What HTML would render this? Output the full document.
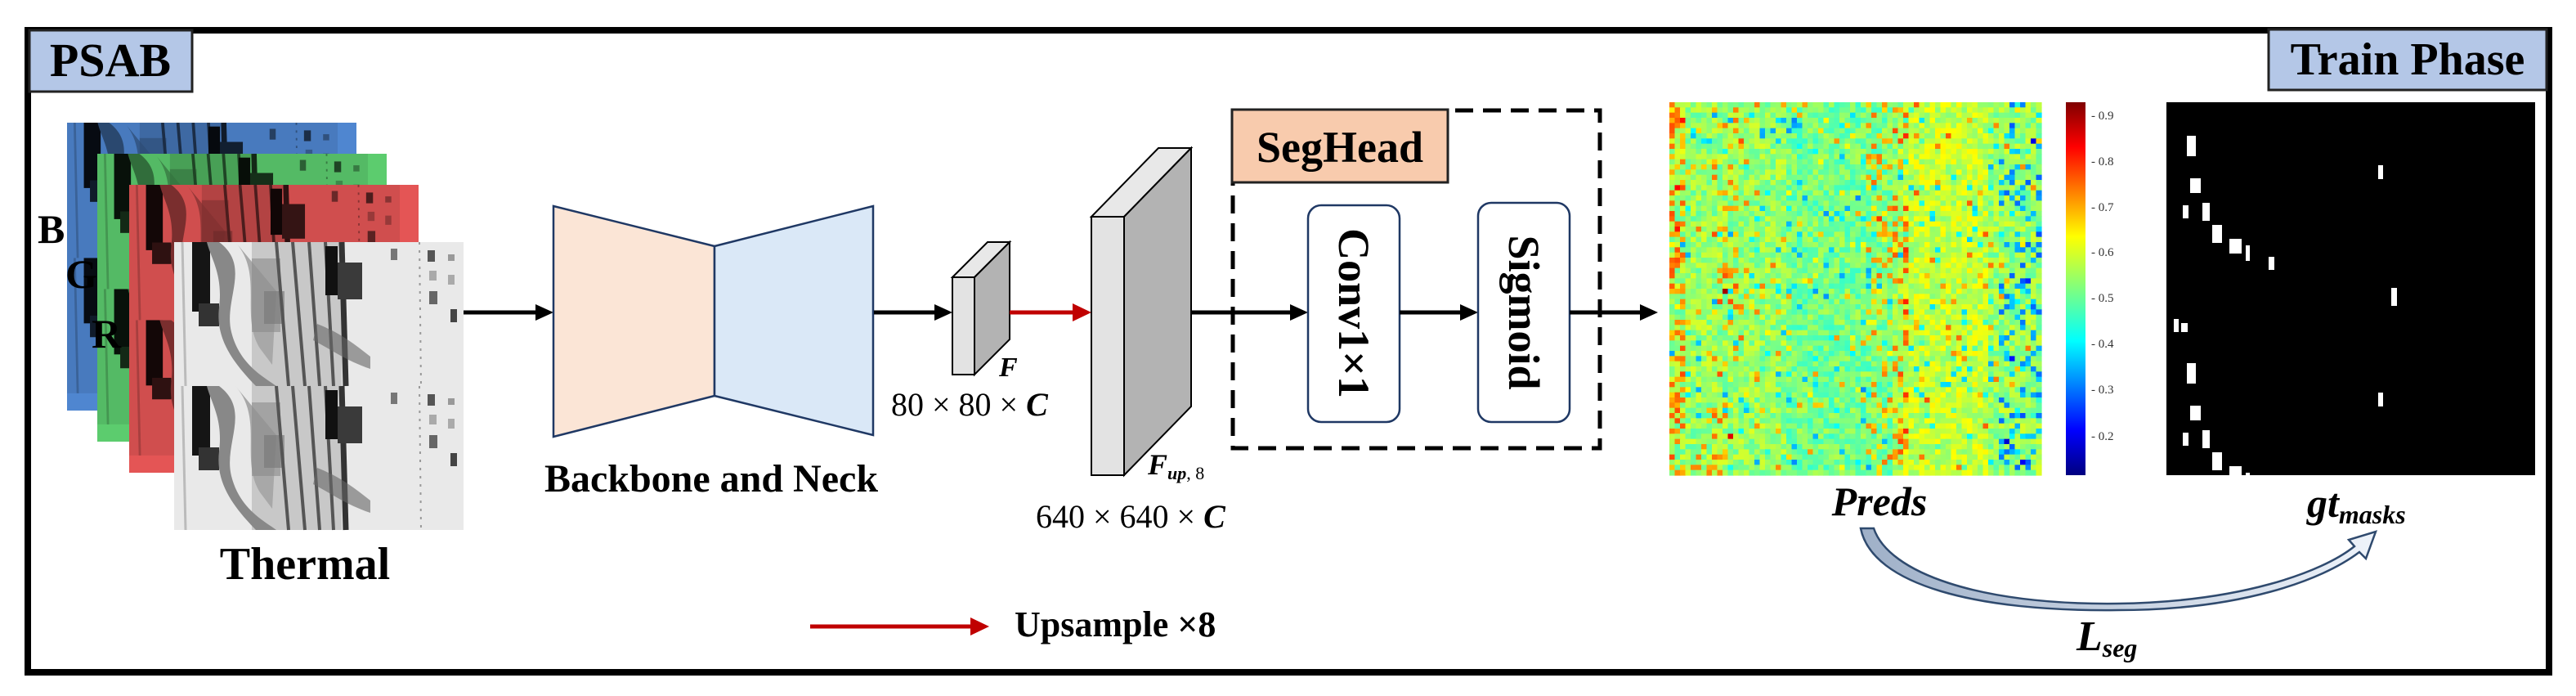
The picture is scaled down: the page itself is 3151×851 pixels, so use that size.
<!DOCTYPE html>
<html><head><meta charset="utf-8"><style>
html,body{margin:0;padding:0;background:#fff;}
svg{display:block;}
text{font-family:"Liberation Serif",serif;}
</style></head><body>
<svg id="s" width="3151" height="851" viewBox="0 0 3151 851" xmlns="http://www.w3.org/2000/svg">
<defs>
 <g id="scene">
  <rect x="0" y="0" width="354" height="176" fill="#e9e9e9"/>
  <path d="M10,0 L14,176" stroke="#bbb" stroke-width="3"/>
  <rect x="95" y="0" width="110" height="176" fill="#c8c8c8"/>
  <rect x="22" y="0" width="22" height="85" fill="#151515"/>
  <rect x="30" y="75" width="25" height="28" fill="#333"/>
  <path d="M55,0 C95,30 60,70 70,110 C80,150 110,165 125,176 L100,176 C75,150 50,120 55,80 C60,40 45,20 40,0Z" fill="#888"/>
  <path d="M75,0 C110,40 80,90 105,130 L120,150 L125,60 Z" fill="#a8a8a8"/>
  <rect x="95" y="20" width="35" height="90" fill="#8a8a8a" opacity="0.6"/>
  <rect x="110" y="60" width="25" height="40" fill="#777" opacity="0.6"/>
  <path d="M125,0 L140,176 M145,0 L160,176 M165,0 L178,176 M185,0 L195,176" stroke="#555" stroke-width="4"/>
  <path d="M205,0 L210,176" stroke="#333" stroke-width="7"/>
  <rect x="185" y="5" width="15" height="60" fill="#111"/>
  <rect x="200" y="25" width="30" height="45" fill="#3a3a3a"/>
  <path d="M175,100 C200,110 215,120 240,140 L240,155 C210,145 190,130 170,120Z" fill="#666" opacity="0.6"/>
  <rect x="265" y="8" width="8" height="14" fill="#777"/>
  <path d="M300,0 L302,176" stroke="#999" stroke-width="2" stroke-dasharray="3,7"/>
  <rect x="310" y="10" width="9" height="14" fill="#555"/><rect x="312" y="35" width="9" height="12" fill="#aaa"/>
  <rect x="312" y="60" width="10" height="16" fill="#666"/><rect x="338" y="82" width="8" height="16" fill="#444"/>
  <rect x="335" y="15" width="8" height="8" fill="#999"/><rect x="335" y="40" width="8" height="12" fill="#aaa"/>
 </g>
 <g id="scene2"><use href="#scene"/><use href="#scene" y="176"/></g>
 <clipPath id="c1"><rect x="0" y="0" width="354" height="352"/></clipPath>
 <linearGradient id="ag" x1="0" y1="0" x2="1" y2="0"><stop offset="0" stop-color="#9fb0c8"/><stop offset="1" stop-color="#eef3fa"/></linearGradient>
</defs>

<rect x="34" y="37" width="3084" height="785" fill="none" stroke="#000" stroke-width="8"/>

<rect x="36" y="37" width="199" height="75" fill="#b4c7e7" stroke="#222" stroke-width="3"/>
<text x="135" y="93" font-size="58" font-weight="bold" text-anchor="middle">PSAB</text>
<rect x="2775" y="36" width="340" height="74" fill="#b4c7e7" stroke="#222" stroke-width="3"/>
<text x="2945" y="91" font-size="56" font-weight="bold" text-anchor="middle">Train Phase</text>

<g transform="translate(82,150)" clip-path="url(#c1)"><g transform="scale(0.935,0.94)"><use href="#scene2"/></g><rect width="354" height="352" fill="#4f86d0" style="mix-blend-mode:multiply"/></g>
<g transform="translate(119,188)" clip-path="url(#c1)"><g transform="scale(0.935,0.94)"><use href="#scene2"/></g><rect width="354" height="352" fill="#5ccc6e" style="mix-blend-mode:multiply"/></g>
<g transform="translate(158,226)" clip-path="url(#c1)"><g transform="scale(0.935,0.94)"><use href="#scene2"/></g><rect width="354" height="352" fill="#e45555" style="mix-blend-mode:multiply"/></g>
<g transform="translate(213,296)"><use href="#scene2"/></g>
<text x="46" y="297" font-size="50" font-weight="bold">B</text>
<text x="80" y="352" font-size="50" font-weight="bold">G</text>
<text x="112" y="425" font-size="50" font-weight="bold">R</text>
<text x="373" y="708" font-size="56" font-weight="bold" text-anchor="middle">Thermal</text>

<line x1="567" y1="382" x2="660" y2="382" stroke="#000" stroke-width="5"/>
<polygon points="677,382 655,372 655,392" fill="#000"/>

<polygon points="677,252 874,301 874,484 677,534" fill="#fbe5d6" stroke="#1f3864" stroke-width="2.5"/>
<polygon points="874,301 1068,252 1068,532 874,484" fill="#dae8f7" stroke="#1f3864" stroke-width="2.5"/>
<text x="870" y="601" font-size="48" font-weight="bold" text-anchor="middle">Backbone and Neck</text>

<line x1="1069" y1="382" x2="1148" y2="382" stroke="#000" stroke-width="5"/>
<polygon points="1165,382 1143,372 1143,392" fill="#000"/>

<polygon points="1165,339 1208,296 1235,296 1192,339" fill="#e8e8e8" stroke="#000" stroke-width="2"/>
<polygon points="1192,339 1235,296 1235,415 1192,458" fill="#b3b3b3" stroke="#000" stroke-width="2"/>
<rect x="1165" y="339" width="27" height="119" fill="#e3e3e3" stroke="#000" stroke-width="2"/>
<text x="1222" y="460" font-size="34" font-weight="bold" font-style="italic">F</text>
<text x="1090" y="508" font-size="40">80 × 80 × <tspan font-weight="bold" font-style="italic">C</tspan></text>

<line x1="1235" y1="382" x2="1316" y2="382" stroke="#c00000" stroke-width="5"/>
<polygon points="1335,382 1312,371 1312,393" fill="#c00000"/>

<polygon points="1335,265 1417,181 1457,181 1375,265" fill="#e8e8e8" stroke="#000" stroke-width="2"/>
<polygon points="1375,265 1457,181 1457,497 1375,581" fill="#b3b3b3" stroke="#000" stroke-width="2"/>
<rect x="1335" y="265" width="40" height="316" fill="#e3e3e3" stroke="#000" stroke-width="2"/>
<text x="1404" y="580" font-size="36" font-weight="bold" font-style="italic">F<tspan font-size="22" dy="6">up</tspan><tspan font-size="22" font-style="normal" font-weight="normal">,  8</tspan></text>
<text x="1267" y="645" font-size="40">640 × 640 × <tspan font-weight="bold" font-style="italic">C</tspan></text>

<line x1="1458" y1="382" x2="1580" y2="382" stroke="#000" stroke-width="5"/>
<polygon points="1600,382 1578,372 1578,392" fill="#000"/>

<rect x="1508" y="135" width="449" height="413" fill="none" stroke="#000" stroke-width="5" stroke-dasharray="22,12"/>
<rect x="1507" y="134" width="264" height="89" fill="#f8cbad" stroke="#222" stroke-width="3"/>
<text x="1639" y="198" font-size="54" font-weight="bold" text-anchor="middle">SegHead</text>

<rect x="1600" y="251" width="112" height="265" rx="16" fill="#fff" stroke="#1f3864" stroke-width="2.5"/>
<text transform="translate(1656,383) rotate(90)" font-size="54" font-weight="bold" text-anchor="middle" dy="18">Conv1×1</text>
<line x1="1712" y1="382" x2="1790" y2="382" stroke="#000" stroke-width="5"/>
<polygon points="1808,382 1786,372 1786,392" fill="#000"/>
<rect x="1808" y="248" width="112" height="268" rx="16" fill="#fff" stroke="#1f3864" stroke-width="2.5"/>
<text transform="translate(1864,382) rotate(90)" font-size="54" font-weight="bold" text-anchor="middle" dy="18">Sigmoid</text>
<line x1="1920" y1="382" x2="2008" y2="382" stroke="#000" stroke-width="5"/>
<polygon points="2028,382 2006,372 2006,392" fill="#000"/>

<g id="heat"></g>
<defs><linearGradient id="jet" x1="0" y1="1" x2="0" y2="0">
<stop offset="0" stop-color="#00007f"/><stop offset="0.12" stop-color="#0000ff"/><stop offset="0.36" stop-color="#00ffff"/><stop offset="0.5" stop-color="#7fff7f"/><stop offset="0.64" stop-color="#ffff00"/><stop offset="0.88" stop-color="#ff0000"/><stop offset="1" stop-color="#7f0000"/></linearGradient></defs>
<rect x="2527" y="125" width="24" height="456" fill="url(#jet)"/>
<g font-family="DejaVu Sans" font-size="15" fill="#333">
<text x="2558" y="146">- 0.9</text><text x="2558" y="202">- 0.8</text><text x="2558" y="258">- 0.7</text><text x="2558" y="313">- 0.6</text><text x="2558" y="369">- 0.5</text><text x="2558" y="425">- 0.4</text><text x="2558" y="481">- 0.3</text><text x="2558" y="538">- 0.2</text>
</g>

<rect x="2650" y="125" width="451" height="456" fill="#000"/>
<g id="mask" fill="#fff"></g>

<text x="2299" y="630" font-size="50" font-weight="bold" font-style="italic" text-anchor="middle">Preds</text>
<text x="2822" y="632" font-size="50" font-weight="bold" font-style="italic">gt<tspan font-size="32" dy="8">masks</tspan></text>

<path d="M2276,646 L2292,646 C2310,700 2420,740 2590,738 C2740,736 2840,700 2880,668 L2873,660 L2906,650 L2894,683 L2886,675 C2840,710 2740,746 2590,746 C2420,748 2290,716 2276,646 Z" fill="url(#ag)" stroke="#2f4a6e" stroke-width="2.5"/>
<text x="2540" y="795" font-size="52" font-weight="bold" font-style="italic">L<tspan font-size="32" dy="8">seg</tspan></text>

<line x1="991" y1="766" x2="1190" y2="766" stroke="#c00000" stroke-width="5"/>
<polygon points="1210,766 1187,755 1187,777" fill="#c00000"/>
<text x="1241" y="778" font-size="44" font-weight="bold">Upsample ×8</text>
</svg>
<script>
(function(){
var NS="http://www.w3.org/2000/svg";
function jet(v){v=Math.max(0,Math.min(1,v));
 function c(x){return Math.round(255*Math.max(0,Math.min(1,x)));}
 var r=c(1.5-Math.abs(4*v-3)),g=c(1.5-Math.abs(4*v-2)),b=c(1.5-Math.abs(4*v-1));
 return "rgb("+r+","+g+","+b+")";}
var seed=12345;function rnd(){seed=(seed*1103515245+12345)&0x7fffffff;return seed/0x7fffffff;}
var h=document.getElementById("heat");var nx=70,ny=72,x0=2042,y0=125,w=455,hh=456;
var cw=w/nx,ch=hh/ny;var frag=document.createDocumentFragment();
for(var j=0;j<ny;j++)for(var i=0;i<nx;i++){
 var v=0.5+(rnd()-0.5)*0.16;
 var fx=i/nx, fy=j/ny;
 if(fx>0.3&&fx<0.6)v-=0.04;
 if(fx>0.62&&fx<0.85)v+=0.05;
 if((fx>0.52&&fx<0.64)&&rnd()<0.2)v+=0.25;
 if((fx>0.1&&fx<0.2)&&rnd()<0.12)v+=0.25;
 if((fx<0.03)&&rnd()<0.4)v+=0.25;
 if((fx>0.88)&&rnd()<0.18)v-=0.3;
 if(rnd()<0.04)v-=0.2;
 if(rnd()<0.03)v+=0.2;
 var r=document.createElementNS(NS,"rect");
 r.setAttribute("x",(x0+i*cw).toFixed(2));r.setAttribute("y",(y0+j*ch).toFixed(2));
 r.setAttribute("width",(cw+0.6).toFixed(2));r.setAttribute("height",(ch+0.6).toFixed(2));
 r.setAttribute("fill",jet(0.1+v*0.85));frag.appendChild(r);}
h.appendChild(frag);
var m=document.getElementById("mask");
var rs=[[2675,166,11,25],[2909,202,6,17],[2679,218,13,18],[2670,251,7,16],[2694,248,9,22],[2706,275,12,22],[2727,292,15,18],[2747,300,5,19],[2775,314,7,16],[2925,352,7,22],[2659,390,6,16],[2668,395,8,11]];
rs.forEach(function(a,k){add(a[0],a[1],a[2],a[3]);if(k<9)add(a[0],a[1]+278,a[2],a[3]);});
function add(x,y,w,hh){if(y>=581)return;if(y+hh>581)hh=581-y;var r=document.createElementNS(NS,"rect");r.setAttribute("x",x);r.setAttribute("y",y);r.setAttribute("width",w);r.setAttribute("height",hh);m.appendChild(r);}
})();
</script>
</body></html>
